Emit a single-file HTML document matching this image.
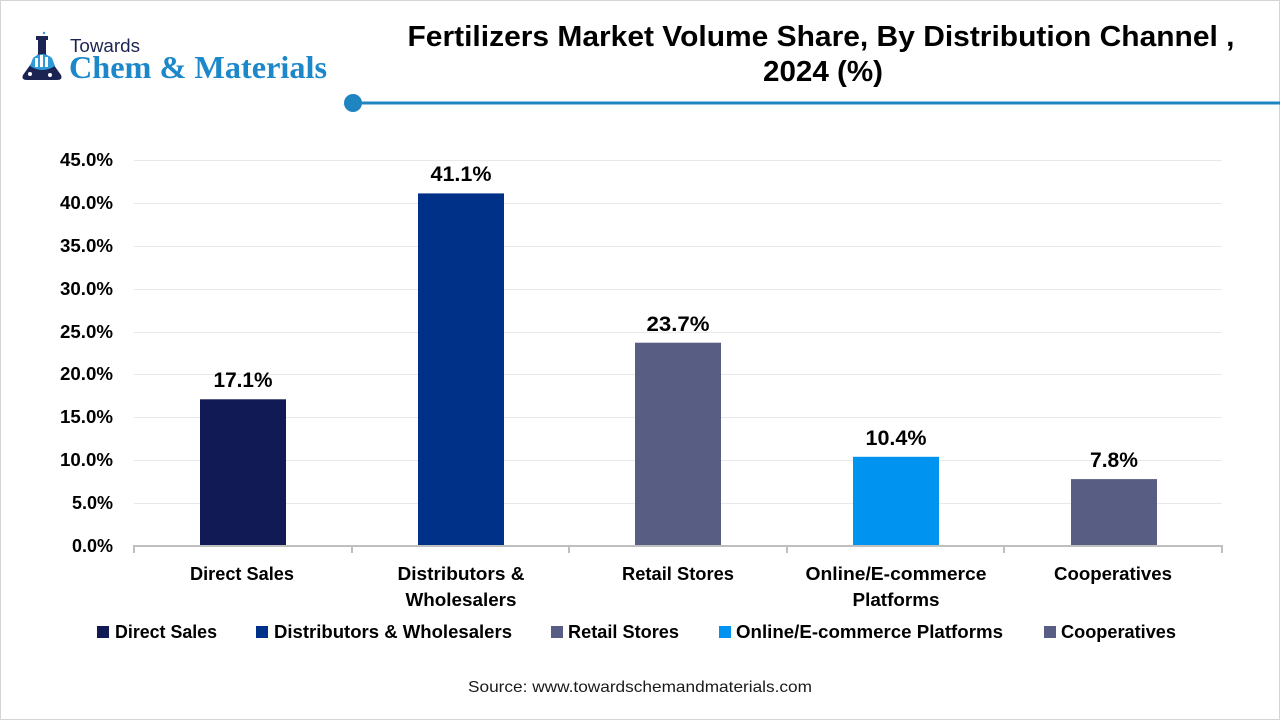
<!DOCTYPE html>
<html>
<head>
<meta charset="utf-8">
<style>
html,body{margin:0;padding:0;background:#fff;}
body{width:1280px;height:720px;overflow:hidden;}
svg{display:block;}
text{font-family:"Liberation Sans",sans-serif;}
</style>
</head>
<body>
<svg width="1280" height="720" viewBox="0 0 1280 720" xmlns="http://www.w3.org/2000/svg">
  <rect x="0.5" y="0.5" width="1279" height="719" fill="#fff" stroke="#d4d4d4" stroke-width="1"/>

  <!-- Logo -->
  <g>
    <rect x="36" y="36" width="12" height="4" fill="#1b2452"/>
    <rect x="38" y="40" width="8" height="8" fill="#1b2452"/>
    <path d="M38 48 L46 48 L46 54 L61 75 Q63 80 57 80 L27 80 Q21 80 23 75 L38 54 Z" fill="#1b2452"/>
    <path d="M33 58 Q42 50 52 58 L55 66 Q42 74 30 66 Z" fill="#2f9ad8"/>
    <rect x="35" y="58" width="3" height="9" fill="#fff"/>
    <rect x="40" y="55" width="3" height="12" fill="#fff"/>
    <rect x="45" y="57" width="3" height="10" fill="#fff"/>
    <circle cx="30" cy="74" r="2" fill="#fff"/>
    <circle cx="50" cy="75" r="2" fill="#fff"/>
    <circle cx="44" cy="33" r="1.2" fill="#2f9ad8"/>
    <text x="70" y="52" font-size="18" fill="#1b2452" textLength="70" lengthAdjust="spacingAndGlyphs">Towards</text>
    <text x="69" y="78" font-weight="bold" font-size="32" fill="#1c87c9" textLength="258" lengthAdjust="spacingAndGlyphs" style="font-family:'Liberation Serif',serif">Chem &amp; Materials</text>
  </g>

  <!-- Title -->
  <text x="821" y="46" font-size="29" font-weight="bold" fill="#000" text-anchor="middle" textLength="827" lengthAdjust="spacingAndGlyphs">Fertilizers Market Volume Share, By Distribution Channel ,</text>
  <text x="823" y="81" font-size="29" font-weight="bold" fill="#000" text-anchor="middle" textLength="120" lengthAdjust="spacingAndGlyphs">2024 (%)</text>

  <!-- Blue rule -->
  <rect x="353" y="101.5" width="927" height="3" fill="#1f85c1"/>
  <circle cx="353" cy="103" r="9" fill="#1f85c1"/>

  <!-- Gridlines -->
  <g stroke="#e8e8e8" stroke-width="1">
    <line x1="134" y1="160.5" x2="1222" y2="160.5"/>
    <line x1="134" y1="203.5" x2="1222" y2="203.5"/>
    <line x1="134" y1="246.5" x2="1222" y2="246.5"/>
    <line x1="134" y1="289.5" x2="1222" y2="289.5"/>
    <line x1="134" y1="332.5" x2="1222" y2="332.5"/>
    <line x1="134" y1="374.5" x2="1222" y2="374.5"/>
    <line x1="134" y1="417.5" x2="1222" y2="417.5"/>
    <line x1="134" y1="460.5" x2="1222" y2="460.5"/>
    <line x1="134" y1="503.5" x2="1222" y2="503.5"/>
  </g>

  <!-- Y labels -->
  <g font-size="18" font-weight="bold" fill="#000" text-anchor="end">
    <text x="113" y="166" textLength="53" lengthAdjust="spacingAndGlyphs">45.0%</text>
    <text x="113" y="209" textLength="53" lengthAdjust="spacingAndGlyphs">40.0%</text>
    <text x="113" y="252" textLength="53" lengthAdjust="spacingAndGlyphs">35.0%</text>
    <text x="113" y="295" textLength="53" lengthAdjust="spacingAndGlyphs">30.0%</text>
    <text x="113" y="338" textLength="53" lengthAdjust="spacingAndGlyphs">25.0%</text>
    <text x="113" y="380" textLength="53" lengthAdjust="spacingAndGlyphs">20.0%</text>
    <text x="113" y="423" textLength="53" lengthAdjust="spacingAndGlyphs">15.0%</text>
    <text x="113" y="466" textLength="53" lengthAdjust="spacingAndGlyphs">10.0%</text>
    <text x="113" y="509" textLength="41" lengthAdjust="spacingAndGlyphs">5.0%</text>
    <text x="113" y="552" textLength="41" lengthAdjust="spacingAndGlyphs">0.0%</text>
  </g>

  <!-- Bars -->
  <rect x="200" y="399.3" width="86" height="146.7" fill="#121a55"/>
  <rect x="418" y="193.4" width="86" height="352.6" fill="#003189"/>
  <rect x="635" y="342.7" width="86" height="203.3" fill="#585d83"/>
  <rect x="853" y="456.8" width="86" height="89.2" fill="#0094f0"/>
  <rect x="1071" y="479.1" width="86" height="66.9" fill="#585d83"/>

  <!-- Data labels -->
  <g font-size="21" font-weight="bold" fill="#000" text-anchor="middle">
    <text x="243" y="387" textLength="59" lengthAdjust="spacingAndGlyphs">17.1%</text>
    <text x="461" y="181" textLength="61" lengthAdjust="spacingAndGlyphs">41.1%</text>
    <text x="678" y="331" textLength="63" lengthAdjust="spacingAndGlyphs">23.7%</text>
    <text x="896" y="445" textLength="61" lengthAdjust="spacingAndGlyphs">10.4%</text>
    <text x="1114" y="467" textLength="48" lengthAdjust="spacingAndGlyphs">7.8%</text>
  </g>

  <!-- Axis -->
  <g stroke="#bfbfbf" stroke-width="2">
    <line x1="133" y1="546" x2="1223" y2="546"/>
    <line x1="134" y1="546" x2="134" y2="553"/>
    <line x1="352" y1="546" x2="352" y2="553"/>
    <line x1="569" y1="546" x2="569" y2="553"/>
    <line x1="787" y1="546" x2="787" y2="553"/>
    <line x1="1004" y1="546" x2="1004" y2="553"/>
    <line x1="1222" y1="546" x2="1222" y2="553"/>
  </g>

  <!-- Category labels -->
  <g font-size="18" font-weight="bold" fill="#000" text-anchor="middle">
    <text x="242" y="580" textLength="104" lengthAdjust="spacingAndGlyphs">Direct Sales</text>
    <text x="461" y="580" textLength="127" lengthAdjust="spacingAndGlyphs">Distributors &amp;</text>
    <text x="461" y="606" textLength="111" lengthAdjust="spacingAndGlyphs">Wholesalers</text>
    <text x="678" y="580" textLength="112" lengthAdjust="spacingAndGlyphs">Retail Stores</text>
    <text x="896" y="580" textLength="181" lengthAdjust="spacingAndGlyphs">Online/E-commerce</text>
    <text x="896" y="606" textLength="87" lengthAdjust="spacingAndGlyphs">Platforms</text>
    <text x="1113" y="580" textLength="118" lengthAdjust="spacingAndGlyphs">Cooperatives</text>
  </g>

  <!-- Legend -->
  <g font-size="18" font-weight="bold" fill="#000">
    <rect x="97" y="626" width="12" height="12" fill="#121a55"/>
    <text x="115" y="638" textLength="102" lengthAdjust="spacingAndGlyphs">Direct Sales</text>
    <rect x="256" y="626" width="12" height="12" fill="#003189"/>
    <text x="274" y="638" textLength="238" lengthAdjust="spacingAndGlyphs">Distributors &amp; Wholesalers</text>
    <rect x="551" y="626" width="12" height="12" fill="#585d83"/>
    <text x="568" y="638" textLength="111" lengthAdjust="spacingAndGlyphs">Retail Stores</text>
    <rect x="719" y="626" width="12" height="12" fill="#0094f0"/>
    <text x="736" y="638" textLength="267" lengthAdjust="spacingAndGlyphs">Online/E-commerce Platforms</text>
    <rect x="1044" y="626" width="12" height="12" fill="#585d83"/>
    <text x="1061" y="638" textLength="115" lengthAdjust="spacingAndGlyphs">Cooperatives</text>
  </g>

  <!-- Source -->
  <text x="640" y="692" font-size="16" fill="#1a1a1a" text-anchor="middle" textLength="344" lengthAdjust="spacingAndGlyphs">Source: www.towardschemandmaterials.com</text>
</svg>
</body>
</html>
